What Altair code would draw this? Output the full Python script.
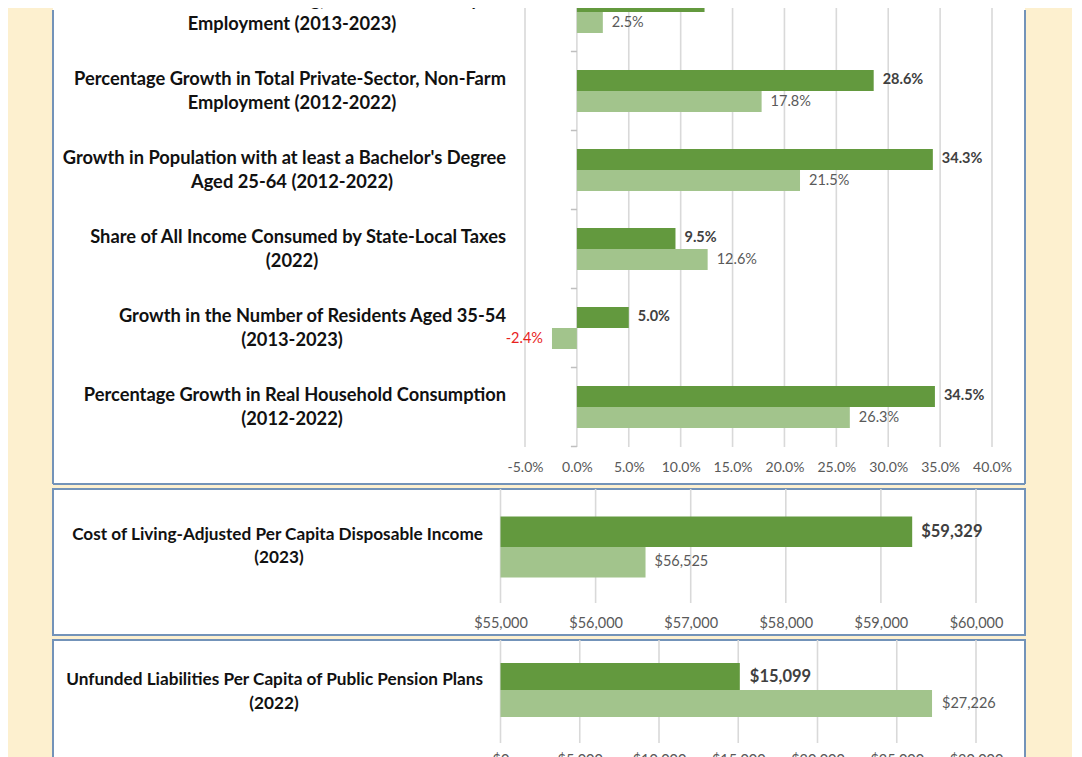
import altair as alt
import pandas as pd

# ---------------- data ----------------
series = ["State", "Comparison"]

cats1 = [
    "Growth in Manufacturing, Private-Sector Payroll\nEmployment (2013-2023)",
    "Percentage Growth in Total Private-Sector, Non-Farm\nEmployment (2012-2022)",
    "Growth in Population with at least a Bachelor's Degree\nAged 25-64 (2012-2022)",
    "Share of All Income Consumed by State-Local Taxes\n(2022)",
    "Growth in the Number of Residents Aged 35-54\n(2013-2023)",
    "Percentage Growth in Real Household Consumption\n(2012-2022)",
]
state1 = [12.3, 28.6, 34.3, 9.5, 5.0, 34.5]
comp1 = [2.5, 17.8, 21.5, 12.6, -2.4, 26.3]
ticks1 = [-5, 0, 5, 10, 15, 20, 25, 30, 35, 40]

cats2 = ["Cost of Living-Adjusted Per Capita Disposable Income\n(2023)"]
state2 = [59329]
comp2 = [56525]
ticks2 = [55000, 56000, 57000, 58000, 59000, 60000]

cats3 = ["Unfunded Liabilities Per Capita of Public Pension Plans\n(2022)"]
state3 = [15099]
comp3 = [27226]
ticks3 = [0, 5000, 10000, 15000, 20000, 25000, 30000]

# ---------------- style ----------------
DARK = "#63993e"
LIGHT = "#a2c48c"
GRID = "#d9d9d9"
SEP = "#bfbfbf"
BORDER = "#7393b9"
CREAM = "#fdf0cf"
FONT = "Lato"
W = 972


def pct(v):
    return f"{v:.1f}%"


def dollars(v):
    return f"${v:,.0f}"


def long_df(cats, a, b, fmt):
    rows = []
    for c, va, vb in zip(cats, a, b):
        l1, l2 = c.split("\n")
        rows.append({"cat": c, "l1": l1, "l2": l2, "series": series[0], "value": va, "label": fmt(va)})
        rows.append({"cat": c, "l1": l1, "l2": l2, "series": series[1], "value": vb, "label": fmt(vb)})
    return pd.DataFrame(rows)


def make_panel(cats, a, b, fmt, ticks, xdomain, xrange, base, yrange, pin, pout, H,
               grid_bottom, l1_right, l2_center, cat_size, dy1, dy2, axis_offset, label_expr,
               dark_size, light_size, tick_size, dx, framed=True, separators=False):
    df = long_df(cats, a, b, fmt)
    tdf = pd.DataFrame({"t": ticks})
    xsc = alt.Scale(domain=xdomain, range=xrange, zero=False, nice=False)
    ysc = alt.Scale(domain=cats, range=yrange, paddingInner=pin, paddingOuter=pout)
    axis = alt.Axis(values=ticks, labelExpr=label_expr, domain=False, ticks=False,
                    grid=False, offset=axis_offset, labelPadding=0, labelFont=FONT,
                    labelFontSize=tick_size, labelColor="#595959", labelFlush=False,
                    labelOverlap=False, labelBound=False, title=None)

    def X(f):
        return alt.X(f, scale=xsc, axis=axis, title=None)

    def Y(**kw):
        return alt.Y("cat:N", scale=ysc, axis=None, title=None, **kw)

    YO = alt.YOffset("series:N", sort=series,
                     scale=alt.Scale(domain=series, paddingInner=0, paddingOuter=0))

    grid = alt.Chart(tdf).mark_rule(color=GRID, strokeWidth=1.6, clip=True).encode(
        x=X("t:Q"), y=alt.value(0), y2=alt.value(grid_bottom))

    bars = alt.Chart(df).mark_bar(clip=True).encode(
        x=X("value:Q"), x2=alt.datum(base), y=Y(), yOffset=YO,
        color=alt.Color("series:N", scale=alt.Scale(domain=series, range=[DARK, LIGHT]),
                        legend=None))

    lab_dark = alt.Chart(df).transform_filter(
        alt.datum.series == series[0]).mark_text(
        align="left", baseline="middle", dx=dx, font=FONT, fontWeight="bold",
        fontSize=dark_size, color="#404040", clip=True).encode(
        x=X("value:Q"), y=Y(), yOffset=YO, text="label:N")

    lab_light = alt.Chart(df).transform_filter(
        (alt.datum.series == series[1]) & (alt.datum.value >= 0)).mark_text(
        align="left", baseline="middle", dx=dx, font=FONT, fontWeight="normal",
        fontSize=light_size, color="#595959", clip=True).encode(
        x=X("value:Q"), y=Y(), yOffset=YO, text="label:N")

    lab_neg = alt.Chart(df).transform_filter(alt.datum.value < 0).mark_text(
        align="right", baseline="middle", dx=-dx, font=FONT, fontWeight="normal",
        fontSize=light_size, color="#e8221c", clip=True).encode(
        x=X("value:Q"), y=Y(), yOffset=YO, text="label:N")

    cat_src = alt.Chart(df).transform_filter(alt.datum.series == series[0])
    cat_l1 = cat_src.mark_text(
        align="right", baseline="middle", dy=dy1, font=FONT, fontWeight="bold",
        fontSize=cat_size, color="#111111", clip=True).encode(
        x=alt.value(l1_right), y=Y(), text="l1:N")
    cat_l2 = cat_src.mark_text(
        align="center", baseline="middle", dy=dy2, font=FONT, fontWeight="bold",
        fontSize=cat_size, color="#111111", clip=True).encode(
        x=alt.value(l2_center), y=Y(), text="l2:N")

    layers = [grid, bars, lab_dark, lab_light, lab_neg, cat_l1, cat_l2]

    if separators:
        cdf = pd.DataFrame({"cat": cats})
        step_half = (yrange[1] - yrange[0]) / len(cats) * pin / 2
        sep_top = alt.Chart(cdf).mark_rule(
            color=SEP, strokeWidth=1.5, yOffset=-step_half, x2Offset=-6, clip=True).encode(
            x=alt.datum(0), x2=alt.datum(0), y=Y(bandPosition=0))
        sep_end = alt.Chart(cdf.tail(1)).mark_rule(
            color=SEP, strokeWidth=1.5, yOffset=step_half, x2Offset=-6, clip=True).encode(
            x=alt.datum(0), x2=alt.datum(0), y=Y(bandPosition=1))
        layers += [sep_top, sep_end]

    if framed:
        view = alt.ViewBackground(fill="white", stroke=BORDER, strokeWidth=2)
    else:
        view = alt.ViewBackground(fill="white", stroke="transparent", strokeWidth=0)
        one = pd.DataFrame({"k": [0]})
        fr = dict(color=BORDER, strokeWidth=2)
        layers += [
            alt.Chart(one).mark_rule(**fr).encode(x=alt.value(0), y=alt.value(2), y2=alt.value(H)),
            alt.Chart(one).mark_rule(**fr).encode(x=alt.value(W), y=alt.value(2), y2=alt.value(H)),
            alt.Chart(one).mark_rule(**fr).encode(x=alt.value(0), x2=alt.value(W), y=alt.value(H)),
        ]

    return alt.layer(*layers).properties(width=W, height=H, view=view)


p1 = make_panel(
    cats1, state1, comp1, pct, ticks1, [-5, 40], [472, 939], 0,
    [-35.5, 438.5], 0.468, 0.234, 476, 439, 453, 239, 18.3, -11, 13, -24,
    "(datum.value < 0 ? '-' : '') + format(abs(datum.value), '.1f') + '%'",
    14.5, 14.5, 14, 9, framed=False, separators=True)

p2 = make_panel(
    cats2, state2, comp2, dollars, ticks2, [55000, 60000], [447.5, 923], 55000,
    [27.5, 88.5], 0, 0, 146, 114, 430, 226, 17.2, -12, 11, -19,
    "'$' + format(datum.value, ',')",
    16.5, 14.5, 14.5, 9)

p3 = make_panel(
    cats3, state3, comp3, dollars, ticks3, [0, 30000], [447.5, 923], 0,
    [23, 77], 0, 0, 133, 103, 430, 221, 17.2, -10, 14, -20,
    "'$' + format(datum.value, ',')",
    16.5, 14.5, 14.5, 10)

chart = alt.vconcat(p1, p2, p3, spacing=5, bounds="flush").resolve_scale(
    yOffset="independent"
).properties(
    background=CREAM,
    padding={"left": 44, "top": 0, "right": 46, "bottom": 0},
)

chart.save("out.html", embed_options={"renderer": "svg", "actions": False})
